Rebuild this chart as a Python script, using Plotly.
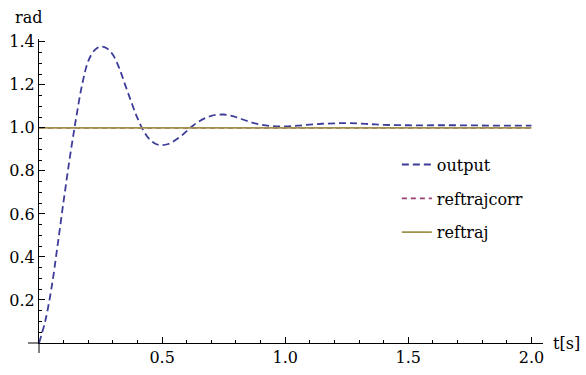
import plotly.graph_objects as go

# ---- data ----
t_output = [0.00, 0.025, 0.05, 0.075, 0.10, 0.125, 0.15, 0.175, 0.20, 0.225, 0.25, 0.275,
            0.30, 0.325, 0.35, 0.375, 0.40, 0.425, 0.45, 0.475, 0.50, 0.525, 0.55, 0.575,
            0.60, 0.625, 0.65, 0.675, 0.70, 0.725, 0.75, 0.775, 0.80, 0.85, 0.90, 0.95,
            1.00, 1.05, 1.10, 1.15, 1.20, 1.25, 1.30, 1.35, 1.40, 1.50, 1.60, 1.70,
            1.80, 1.90, 2.00]
y_output = [0.00, 0.10, 0.25, 0.45, 0.66, 0.86, 1.04, 1.20, 1.31, 1.36, 1.378, 1.37,
            1.34, 1.28, 1.20, 1.12, 1.045, 0.985, 0.945, 0.925, 0.92, 0.925, 0.94, 0.96,
            0.985, 1.01, 1.03, 1.045, 1.056, 1.061, 1.062, 1.058, 1.05, 1.03, 1.015, 1.008,
            1.007, 1.01, 1.015, 1.019, 1.021, 1.022, 1.02, 1.017, 1.014, 1.012, 1.012, 1.012,
            1.011, 1.010, 1.010]
t_ref = [0.0, 2.0]
y_reftrajcorr = [1.0, 1.0]
y_reftraj = [1.0, 1.0]

x_tickvals = [0.5, 1.0, 1.5, 2.0]
y_tickvals = [0.2, 0.4, 0.6, 0.8, 1.0, 1.2, 1.4]

FONT = "DejaVu Serif"
FS = 16

fig = go.Figure()
fig.add_trace(go.Scatter(x=t_output, y=y_output, mode="lines", name="output",
                         line=dict(color="#3d3d99", width=1.8, dash="7px,4px", shape="spline"),
                         legendgroup="a"))
fig.add_trace(go.Scatter(x=t_ref, y=y_reftrajcorr, mode="lines", name="reftrajcorr",
                         line=dict(color="#993d74", width=1.8, dash="5px,4px"),
                         legendgroup="b"))
fig.add_trace(go.Scatter(x=t_ref, y=y_reftraj, mode="lines", name="reftraj",
                         line=dict(color="#a0924c", width=1.8),
                         legendgroup="c"))

fig.update_layout(
    width=586, height=375,
    margin=dict(l=39, r=43, t=39, b=32, autoexpand=False),
    paper_bgcolor="white", plot_bgcolor="white",
    font=dict(family=FONT, size=FS, color="black"),
    legend=dict(x=0.71, y=0.475, xanchor="left", yanchor="middle",
                bgcolor="rgba(0,0,0,0)", tracegroupgap=10,
                font=dict(family=FONT, size=FS)),
    xaxis=dict(range=[0, 2.047], showgrid=False, zeroline=False, automargin=False,
               showline=True, linecolor="black", linewidth=1,
               tickvals=x_tickvals, tickformat=".1f",
               ticks="inside", ticklen=6, tickcolor="black",
               minor=dict(ticks="inside", ticklen=3, dtick=0.1, tick0=0, tickcolor="black"),
               tickfont=dict(family=FONT, size=FS)),
    yaxis=dict(range=[0, 1.413], showgrid=False, zeroline=False, automargin=False,
               showline=True, linecolor="black", linewidth=1,
               tickvals=y_tickvals, tickformat=".1f",
               ticks="inside", ticklen=6, tickcolor="black",
               minor=dict(ticks="inside", ticklen=3, dtick=0.05, tick0=0, tickcolor="black"),
               tickfont=dict(family=FONT, size=FS)),
    annotations=[
        dict(text="rad", xref="paper", yref="paper", x=-0.052, y=1.07,
             xanchor="left", yanchor="middle", showarrow=False,
             font=dict(family=FONT, size=FS)),
        dict(text="t[s]", xref="paper", yref="paper", x=1.015, y=0.0,
             xanchor="left", yanchor="middle", showarrow=False,
             font=dict(family=FONT, size=FS)),
    ],
    shapes=[
        dict(type="line", xref="paper", yref="paper", x0=-11/504, x1=0, y0=0, y1=0,
             line=dict(color="black", width=1)),
        dict(type="line", xref="paper", yref="paper", x0=0, x1=0, y0=-10/304, y1=0,
             line=dict(color="black", width=1)),
    ],
)

fig.write_html("out.html")
